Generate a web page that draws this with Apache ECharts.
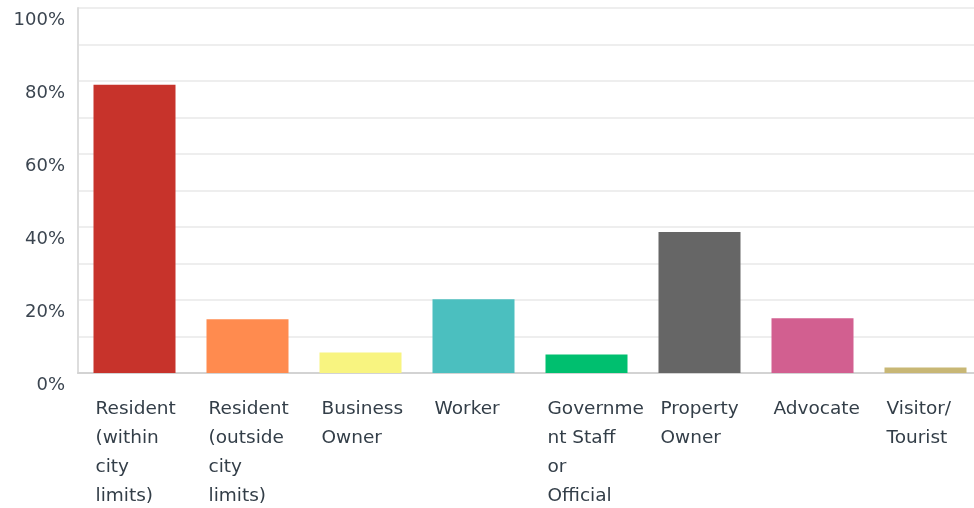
<!DOCTYPE html>
<html>
<head>
<meta charset="utf-8">
<script src="https://cdn.jsdelivr.net/npm/echarts@6/dist/echarts.min.js"></script>
<style>
  html, body { margin: 0; padding: 0; background: #fff; }
  #chart { width: 974px; height: 508px; }
</style>
</head>
<body>
<div id="chart"></div>
<script>
  // data
  var categories = ['Resident (within city limits)', 'Resident (outside city limits)', 'Business Owner', 'Worker',
    'Government Staff or Official', 'Property Owner', 'Advocate', 'Visitor/ Tourist'];
  // label lines as wrapped in the reference
  var labelLines = [
    ['Resident', '(within', 'city', 'limits)'],
    ['Resident', '(outside', 'city', 'limits)'],
    ['Business', 'Owner'],
    ['Worker'],
    ['Governme', 'nt Staff', 'or', 'Official'],
    ['Property', 'Owner'],
    ['Advocate'],
    ['Visitor/', 'Tourist']
  ];
  var values = [79.0, 14.7, 5.6, 20.2, 5.1, 38.6, 15.0, 1.5];
  var colors = ['#c7332b', '#ff8b4f', '#f8f480', '#4bbfbf', '#00bf6f', '#666666', '#d25f90', '#c8b775'];
  var yTickLabels = ['0%', '20%', '40%', '60%', '80%', '100%'];

  var myChart = echarts.init(document.getElementById('chart'));

  var option = {
    animation: false,
    grid: {
      left: 78,
      top: 8,
      width: 904,
      height: 365,
      containLabel: false,
      outerBoundsMode: 'none'
    },
    xAxis: {
      type: 'category',
      data: categories,
      axisTick: { show: false },
      axisLine: {
        show: true,
        lineStyle: { color: '#d3d3d3', width: 2 }
      },
      axisLabel: {
        interval: 0,
        margin: 22,
        align: 'center',
        formatter: function (value, idx) {
          return labelLines[idx].map(function (l) { return '{a|' + l + '}'; }).join('\n');
        },
        rich: {
          a: {
            width: 80,
            align: 'left',
            padding: [0, 0, 0, 2],
            fontFamily: 'DejaVu Sans',
            fontSize: 18.5,
            lineHeight: 29,
            color: '#333e48'
          }
        }
      }
    },
    yAxis: {
      type: 'value',
      min: 0,
      max: 100,
      interval: 10,
      axisLine: {
        show: true,
        lineStyle: { color: '#dddddd', width: 2 }
      },
      axisTick: { show: false },
      splitLine: {
        show: true,
        lineStyle: { color: '#eeeeee', width: 2 }
      },
      axisLabel: {
        margin: 13,
        verticalAlign: 'top',
        padding: [3, 0, 0, 0],
        fontFamily: 'DejaVu Sans',
        fontSize: 18,
        color: '#3b4550',
        formatter: function (v) {
          var i = Math.round(v) / 20;
          return Number.isInteger(i) ? yTickLabels[i] : '';
        }
      }
    },
    series: [{
      type: 'bar',
      data: values.map(function (v, i) {
        return { value: v, itemStyle: { color: colors[i] } };
      }),
      barWidth: 82
    }]
  };

  myChart.setOption(option);
</script>
</body>
</html>
